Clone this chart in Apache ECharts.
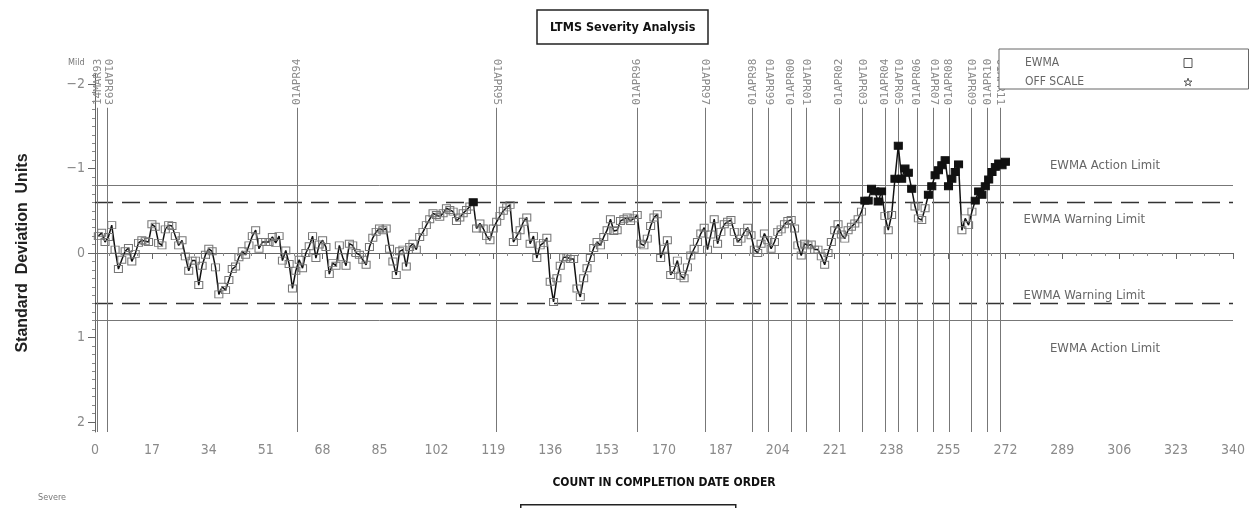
<!DOCTYPE html>
<html>
<head>
<meta charset="utf-8">
<title>LTMS Severity Analysis</title>
<script src="https://cdn.jsdelivr.net/npm/echarts@6/dist/echarts.min.js"></script>
<style>
html, body { margin: 0; padding: 0; background: #fff; }
#chart { width: 1250px; height: 508px; }
</style>
</head>
<body>
<div id="chart"></div>
<script>
// EWMA, one value per test in completion order (count 1 .. 272)
const ewma = [
    -0.20, -0.24, -0.13, -0.19, -0.33, -0.04, 0.19, 0.08, -0.02, -0.06,
    0.10, 0.01, -0.12, -0.15, -0.14, -0.13, -0.34, -0.31, -0.12, -0.09,
    -0.28, -0.33, -0.32, -0.20, -0.09, -0.15, 0.04, 0.21, 0.09, 0.09,
    0.38, 0.15, 0.02, -0.05, -0.02, 0.17, 0.49, 0.40, 0.44, 0.32,
    0.19, 0.16, 0.05, -0.02, 0.02, -0.09, -0.20, -0.27, -0.05, -0.13,
    -0.13, -0.13, -0.19, -0.12, -0.20, 0.09, -0.03, 0.13, 0.42, 0.21,
    0.08, 0.18, 0.00, -0.08, -0.20, 0.06, -0.10, -0.15, -0.07, 0.25,
    0.12, 0.15, -0.09, 0.05, 0.15, -0.11, -0.09, 0.00, 0.02, 0.08,
    0.14, -0.07, -0.18, -0.25, -0.29, -0.27, -0.29, -0.05, 0.10, 0.26,
    -0.02, -0.04, 0.16, -0.07, -0.11, -0.04, -0.19, -0.25, -0.33, -0.40,
    -0.47, -0.45, -0.43, -0.47, -0.53, -0.51, -0.49, -0.38, -0.42, -0.47,
    -0.51, -0.55, -0.60, -0.29, -0.35, -0.29, -0.20, -0.15, -0.29, -0.37,
    -0.44, -0.50, -0.54, -0.57, -0.13, -0.20, -0.27, -0.37, -0.42, -0.11,
    -0.20, 0.06, -0.09, -0.12, -0.18, 0.34, 0.58, 0.30, 0.15, 0.05,
    0.05, 0.07, 0.07, 0.42, 0.52, 0.30, 0.18, 0.06, -0.06, -0.13,
    -0.09, -0.19, -0.27, -0.40, -0.26, -0.27, -0.38, -0.40, -0.42, -0.38,
    -0.41, -0.45, -0.11, -0.09, -0.17, -0.32, -0.42, -0.46, 0.06, -0.05,
    -0.15, 0.26, 0.20, 0.09, 0.27, 0.30, 0.17, 0.03, -0.05, -0.13,
    -0.23, -0.30, -0.04, -0.22, -0.40, -0.11, -0.25, -0.34, -0.37, -0.39,
    -0.25, -0.13, -0.17, -0.25, -0.30, -0.21, -0.04, 0.00, -0.11, -0.23,
    -0.15, -0.05, -0.13, -0.25, -0.28, -0.34, -0.38, -0.39, -0.29, -0.09,
    0.03, -0.11, -0.09, -0.10, -0.04, -0.04, 0.04, 0.14, 0.00, -0.13,
    -0.27, -0.34, -0.22, -0.17, -0.27, -0.31, -0.35, -0.40, -0.49, -0.62,
    -0.62, -0.76, -0.73, -0.61, -0.73, -0.44, -0.27, -0.45, -0.88, -1.27,
    -0.88, -1.00, -0.95, -0.76, -0.55, -0.41, -0.39, -0.53, -0.69, -0.79,
    -0.92, -0.98, -1.04, -1.10, -0.79, -0.88, -0.96, -1.05, -0.27, -0.41,
    -0.33, -0.49, -0.62, -0.73, -0.69, -0.79, -0.87, -0.96, -1.02, -1.06,
    -1.04, -1.08
]

// reference date markers (count position)
const eventNames = [
    '14MAR93', '01APR93', '01APR94', '01APR95', '01APR96', '01APR97', '01APR98', '01APR99',
    '01APR00', '01APR01', '01APR02', '01APR03', '01APR04', '01APR05', '01APR06', '01APR07',
    '01APR08', '01APR09', '01APR10', '01APR11'
]
const eventCounts = [
    0.8, 3.7, 60.3, 120.0, 162.1, 182.3, 196.5, 201.2,
    207.9, 212.4, 222.4, 229.1, 236.0, 240.0, 245.7, 250.5,
    255.3, 261.7, 266.7, 270.4
]

const xTickLabels = [0, 17, 34, 51, 68, 85, 102, 119, 136, 153, 170, 187, 204, 221, 238, 255, 272, 289, 306, 323, 340]
const yTickLabels = [-2, -1, 0, 1, 2]

const warningLimit = 0.6
const actionLimit = 0.8

const textFont = "'Liberation Sans Narrow', 'DejaVu Sans Condensed', 'Liberation Sans', sans-serif"
const monoFont = "'DejaVu Sans Mono', 'Liberation Mono', monospace"
const gray = '#8a8a8a'
const starPath = 'path://M5,0 L6.2,3.6 L10,3.6 L7,5.9 L8.1,9.5 L5,7.3 L1.9,9.5 L3,5.9 L0,3.6 L3.8,3.6 Z'

const Y_MIN = -2.12
const Y_MAX = 2.12
const EVENT_TOP = -1.72 // where the date lines stop

// minor ticks on y (every 0.1), skipping the labelled ones
const yMinor = []
for (let k = -21; k <= 21; k++) {
    if (k % 10 !== 0) yMinor.push(k / 10)
}

const points = ewma.map((v, i) => {
    const item = { value: [i + 1, v] }
    if (v <= -warningLimit) {
        // beyond warning limit: filled marker
        item.itemStyle = { color: '#111', borderColor: '#111' }
    }
    return item
})

// date labels split on two axes so neighbours never hide each other
const evenEvents = eventCounts.filter((c, i) => i % 2 === 0)
const oddEvents = eventCounts.filter((c, i) => i % 2 === 1)

const eventAxis = values => ({
    type: 'value',
    position: 'top',
    min: 0,
    max: 340,
    offset: -34,
    axisLine: { show: false },
    axisTick: { show: false },
    axisLabel: {
        show: true,
        customValues: values,
        rotate: 90,
        margin: 3,
        showMinLabel: true,
        showMaxLabel: true,
        color: '#8a8a8a',
        fontFamily: monoFont,
        fontSize: 11,
        formatter: v => {
            const idx = eventCounts.indexOf(v)
            return idx >= 0 ? eventNames[idx] : ''
        },
    },
    splitLine: { show: false },
})

const chart = echarts.init(document.getElementById('chart'), null, { renderer: 'canvas' })

const limitLine = (value, dashed, text, pos, dist) => ({
    yAxis: value,
    lineStyle: dashed
        ? { color: '#333', width: 1.3, type: [18, 9] }
        : { color: '#777', width: 1, type: 'solid' },
    label: {
        show: true,
        formatter: text,
        position: pos,
        distance: dist,
        color: '#666',
        fontFamily: textFont,
        fontSize: 13,
    },
})

const eventLines = eventCounts.map(c => [
    { coord: [c, Y_MAX], lineStyle: { color: '#777', width: 1, type: 'solid' }, label: { show: false } },
    { coord: [c, EVENT_TOP] },
])

const option = {
    animation: false,
    backgroundColor: '#fff',
    title: {
        text: 'LTMS Severity Analysis',
        left: 537,
        top: 10,
        padding: [11, 13, 10, 13],
        borderColor: '#222',
        borderWidth: 1.5,
        textStyle: {
            fontFamily: textFont,
            fontWeight: 'bold',
            fontSize: 12.5,
            color: '#111',
        },
    },
    legend: {
        orient: 'vertical',
        left: 999,
        top: 49,
        padding: [8, 56, 1, 26],
        itemGap: 7,
        itemWidth: 8,
        itemHeight: 9,
        align: 'right',
        borderColor: '#666',
        borderWidth: 1,
        backgroundColor: '#fff',
        selectedMode: false,
        formatter: name => '{t|' + name + '}',
        textStyle: {
            fontFamily: textFont,
            fontSize: 12,
            color: '#666',
            rich: {
                t: { width: 154, align: 'left', fontFamily: textFont, fontSize: 12, color: '#666' },
            },
        },
        itemStyle: { color: '#fff', borderColor: '#555', borderWidth: 1 },
        data: [
            { name: 'EWMA', icon: 'rect' },
            { name: 'OFF SCALE', icon: starPath },
        ],
    },
    grid: {
        left: 95,
        right: 17,
        top: 74,
        bottom: 76,
        containLabel: false,
    },
    xAxis: [
        {
            type: 'value',
            min: 0,
            max: 340,
            interval: 17,
            name: 'COUNT IN COMPLETION DATE ORDER',
            nameLocation: 'middle',
            nameGap: 45,
            nameTextStyle: { fontFamily: textFont, fontWeight: 'bold', fontSize: 12, color: '#111' },
            axisLine: { lineStyle: { color: '#666', width: 1 } },
            axisTick: { length: 6, lineStyle: { color: '#666' } },
            minorTick: { show: true, splitNumber: 4, length: 3, lineStyle: { color: '#888' } },
            axisLabel: {
                color: gray,
                fontFamily: textFont,
                fontSize: 14,
                margin: 11,
                customValues: xTickLabels,
            },
            splitLine: { show: false },
        },
        eventAxis(evenEvents),
        eventAxis(oddEvents),
    ],
    yAxis: [
        {
            type: 'value',
            inverse: true,
            min: Y_MIN,
            max: Y_MAX,
            name: 'Standard  Deviation  Units',
            nameLocation: 'middle',
            nameGap: 64,
            nameTextStyle: { fontFamily: "'Liberation Sans', Arial, sans-serif", fontWeight: 'bold', fontSize: 16, color: '#222' },
            axisLine: { show: true, lineStyle: { color: '#666', width: 1 } },
            axisTick: { show: true, length: 7, customValues: yTickLabels, lineStyle: { color: '#666' } },
            axisLabel: {
                customValues: yTickLabels,
                color: gray,
                fontFamily: textFont,
                fontSize: 14,
                margin: 10,
                formatter: v => (v < 0 ? '\u2212' + Math.abs(v) : String(v)),
            },
            splitLine: { show: false },
        },
        {
            type: 'value',
            inverse: true,
            min: Y_MIN,
            max: Y_MAX,
            position: 'left',
            axisLine: { show: false },
            axisTick: { show: true, length: 3, customValues: yMinor, lineStyle: { color: '#888' } },
            axisLabel: { show: false },
            splitLine: { show: false },
        },
    ],
    graphic: [
        { type: 'text', left: 68, top: 58, style: { text: 'Mild', fontFamily: textFont, fontSize: 9, fill: '#777' } },
        { type: 'text', left: 38, top: 493, style: { text: 'Severe', fontFamily: textFont, fontSize: 9, fill: '#777' } },
        { type: 'rect', left: 520, top: 504, shape: { width: 215, height: 20 }, style: { fill: '#fff', stroke: '#222', lineWidth: 1.5 } },
    ],
    series: [
        {
            name: 'EWMA',
            type: 'line',
            xAxisIndex: 0,
            yAxisIndex: 0,
            data: points,
            symbol: 'rect',
            symbolSize: [8, 7],
            showAllSymbol: true,
            lineStyle: { color: '#111', width: 1.5 },
            itemStyle: { color: 'rgba(255,255,255,0)', borderColor: '#777', borderWidth: 1 },
            z: 5,
            markLine: {
                silent: true,
                symbol: 'none',
                data: [
                    limitLine(-actionLimit, false, 'EWMA Action Limit', 'insideEndTop', [73, 13]),
                    limitLine(-warningLimit, true, 'EWMA Warning Limit', 'insideEndBottom', [88, 11]),
                    limitLine(warningLimit, true, 'EWMA Warning Limit', 'insideEndTop', [88, 2]),
                    limitLine(actionLimit, false, 'EWMA Action Limit', 'insideEndBottom', [73, 22]),
                ],
            },
        },
        {
            // date reference lines
            name: 'dates',
            type: 'line',
            xAxisIndex: 0,
            yAxisIndex: 0,
            data: [],
            z: 1,
            markLine: {
                silent: true,
                symbol: 'none',
                label: { show: false },
                data: eventLines,
            },
        },
        {
            name: 'OFF SCALE',
            type: 'line',
            data: [],
            symbol: starPath,
        },
    ],
}

chart.setOption(option)
</script>
</body>
</html>
